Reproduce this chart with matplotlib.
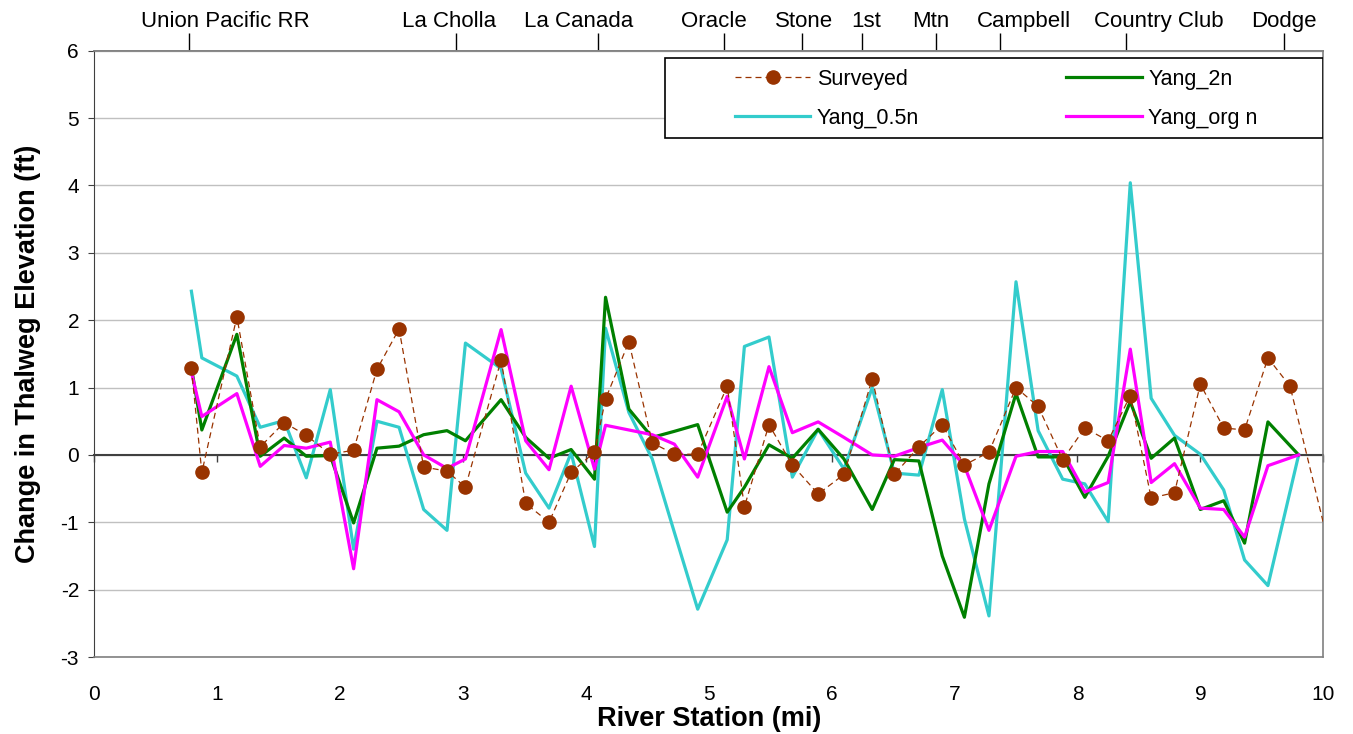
import matplotlib
matplotlib.use("Agg")
import matplotlib.pyplot as plt
from matplotlib.patches import Rectangle

plt.rcParams['font.family'] = ['Liberation Sans', 'DejaVu Sans']
plt.rcParams['axes.unicode_minus'] = False

# river station (mi) of the model cross sections
station = [0.79, 0.875, 1.16, 1.35, 1.545, 1.725, 1.92, 2.11, 2.30, 2.48,
           2.68, 2.87, 3.02, 3.31, 3.51, 3.70, 3.88, 4.07, 4.16, 4.35,
           4.54, 4.72, 4.91, 5.15, 5.29, 5.49, 5.68, 5.89, 6.10, 6.33,
           6.51, 6.71, 6.90, 7.08, 7.28, 7.50, 7.68, 7.88, 8.06, 8.25,
           8.43, 8.60, 8.79, 9.00, 9.19, 9.36, 9.55, 9.80]
survey_station = station[:47] + [9.73, 10.1]

surveyed = [1.29, -0.26, 2.05, 0.12, 0.48, 0.29, 0.01, 0.07, 1.27, 1.87,
            -0.18, -0.24, -0.48, 1.41, -0.72, -1.0, -0.26, 0.04, 0.83, 1.68,
            0.18, 0.01, 0.01, 1.02, -0.77, 0.45, -0.15, -0.58, -0.29, 1.13,
            -0.29, 0.12, 0.45, -0.15, 0.04, 1.0, 0.72, -0.07, 0.40, 0.21,
            0.88, -0.64, -0.56, 1.05, 0.40, 0.37, 1.44, 1.02, -1.75]
yang_2n = [1.30, 0.37, 1.79, -0.02, 0.25, -0.02, -0.01, -1.01, 0.10, 0.13,
           0.30, 0.36, 0.21, 0.82, 0.26, -0.05, 0.08, -0.36, 2.34, 0.68,
           0.26, 0.35, 0.45, -0.85, -0.48, 0.15, -0.05, 0.38, -0.06, -0.81,
           -0.07, -0.09, -1.50, -2.41, -0.43, 0.91, -0.03, -0.03, -0.63, -0.02,
           0.79, -0.05, 0.25, -0.81, -0.68, -1.31, 0.49, 0.0]
yang_05n = [2.43, 1.44, 1.17, 0.41, 0.51, -0.34, 0.97, -1.40, 0.50, 0.41,
            -0.81, -1.12, 1.66, 1.28, -0.27, -0.79, 0.03, -1.36, 1.88, 0.63,
            -0.06, -1.15, -2.29, -1.26, 1.61, 1.75, -0.33, 0.38, -0.21, 1.0,
            -0.27, -0.30, 0.97, -0.95, -2.39, 2.57, 0.36, -0.36, -0.43, -0.99,
            4.04, 0.84, 0.29, 0.01, -0.52, -1.56, -1.94, 0.0]
yang_org = [1.23, 0.57, 0.91, -0.17, 0.14, 0.10, 0.19, -1.69, 0.82, 0.64,
            0.0, -0.2, -0.06, 1.86, 0.21, -0.22, 1.02, -0.21, 0.44, 0.37,
            0.30, 0.16, -0.33, 0.87, -0.06, 1.31, 0.33, 0.49, 0.26, 0.0,
            -0.02, 0.11, 0.22, -0.16, -1.12, -0.02, 0.05, 0.05, -0.55, -0.41,
            1.57, -0.41, -0.13, -0.79, -0.81, -1.22, -0.16, 0.0]

landmarks = ['Union Pacific RR', 'La Cholla', 'La Canada', 'Oracle', 'Stone',
             '1st', 'Mtn', 'Campbell', 'Country Club', 'Dodge']
landmark_mi = [0.773, 2.941, 4.101, 5.126, 5.758, 6.247, 6.849, 7.369, 8.394, 9.680]
# where the names sit (not always right over the tick)
label_mi = [1.066, 2.885, 3.942, 5.041, 5.773, 6.285, 6.810, 7.561, 8.659, 9.676]

fig = plt.figure(figsize=(13.53, 7.34), dpi=100)
ax = fig.add_axes([0.0697, 0.1049, 0.9083, 0.8260])

l_2n, = ax.plot(station, yang_2n, color='#008000', lw=2.3, label='Yang_2n', zorder=3)
l_05, = ax.plot(station, yang_05n, color='#33CCCC', lw=2.3, label='Yang_0.5n', zorder=2.5)
l_org, = ax.plot(station, yang_org, color='#FF00FF', lw=2.3, label='Yang_org n', zorder=3.5)
l_sv, = ax.plot(survey_station, surveyed, color='#993300', ls=(0, (4.8, 3.2)), lw=0.9,
                marker='o', ms=9.5, mec='#993300', label='Surveyed', zorder=4)

ax.set_xlim(0, 10)
ax.set_ylim(-3, 6)
ax.set_xticks(range(0, 11))
ax.set_yticks(range(-3, 7))
ax.yaxis.grid(True, color='#C0C0C0', lw=1)
ax.set_axisbelow(True)
ax.tick_params(axis='x', length=0, pad=20, labelsize=15)
ax.tick_params(axis='y', direction='out', length=4, labelsize=15, pad=7, color='#404040')
for side in ['top', 'right', 'bottom']:
    ax.spines[side].set_color('#808080')
    ax.spines[side].set_linewidth(1.2)
ax.spines['left'].set_color('#404040')

# x axis crossing at zero
zero = ax.secondary_xaxis(1 / 3)
zero.set_zorder(1)
zero.set_xticks(range(0, 11))
zero.tick_params(axis='x', direction='out', length=5, width=1, color='#404040',
                 labelbottom=False, labeltop=False)
for s in zero.spines.values():
    s.set_color('#404040')
    s.set_linewidth(1.5)

# landmarks along the top
top = ax.secondary_xaxis('top')
top.set_xticks(landmark_mi)
top.tick_params(direction='out', length=13, width=1, color='black', labeltop=False)
for s in top.spines.values():
    s.set_color('#808080')
    s.set_linewidth(1.2)
for name, xm in zip(landmarks, label_mi):
    ax.text(xm, 1.0386, name, transform=ax.get_xaxis_transform(), ha='center',
            va='baseline', fontsize=16, clip_on=False)

ax.set_xlabel('River Station (mi)', fontsize=19.5, fontweight='bold')
ax.xaxis.set_label_coords(0.5, -0.081)
ax.set_ylabel('Change in Thalweg Elevation (ft)', fontsize=19.5, fontweight='bold')
ax.yaxis.set_label_coords(-0.043, 0.5)

ax.add_patch(Rectangle((0.4644, 0.856), 0.5356, 0.132, transform=ax.transAxes,
                       facecolor='white', edgecolor='black', lw=1.2, zorder=5))
leg = ax.legend(handles=[l_sv, l_05, l_2n, l_org], ncol=2, loc='upper left',
                bbox_to_anchor=(0.5213, 0.970), frameon=False, fontsize=15.5,
                handlelength=3.5, handletextpad=0.3, columnspacing=6.85,
                labelspacing=0.82, borderpad=0, borderaxespad=0)
leg.set_zorder(6)

fig.savefig('out.png', dpi=100)
